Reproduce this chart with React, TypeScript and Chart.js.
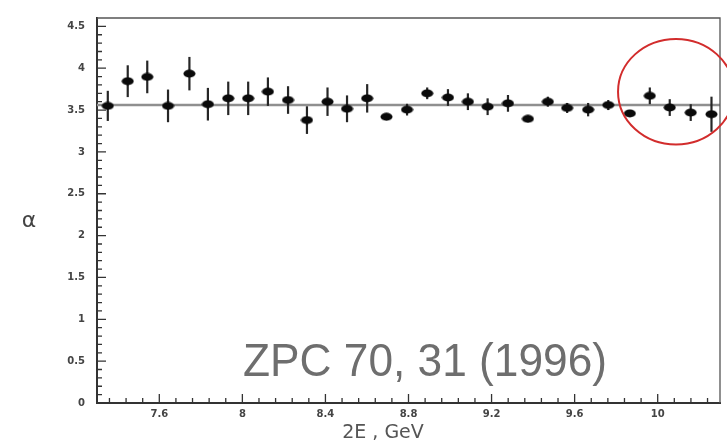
import React, { useEffect, useRef } from "react";
import { Chart, registerables } from "chart.js";

Chart.register(...registerables);

// ---- data ----
const energies = [7.352, 7.448, 7.542, 7.642, 7.745, 7.834, 7.932, 8.028, 8.123, 8.22, 8.311, 8.41, 8.504, 8.601, 8.694, 8.793, 8.89, 8.99, 9.086, 9.181, 9.279, 9.375, 9.471, 9.564, 9.665, 9.762, 9.866, 9.962, 10.058, 10.159, 10.259];
const alphaValues = [3.55, 3.845, 3.896, 3.55, 3.935, 3.57, 3.64, 3.64, 3.72, 3.62, 3.38, 3.6, 3.515, 3.64, 3.42, 3.505, 3.7, 3.65, 3.6, 3.54, 3.58, 3.395, 3.6, 3.525, 3.505, 3.56, 3.46, 3.67, 3.53, 3.47, 3.45];
const alphaErrors = [0.18, 0.19, 0.195, 0.195, 0.2, 0.195, 0.2, 0.2, 0.17, 0.165, 0.165, 0.17, 0.16, 0.17, 0.04, 0.07, 0.07, 0.1, 0.1, 0.1, 0.1, 0.04, 0.06, 0.06, 0.08, 0.06, 0.04, 0.1, 0.1, 0.1, 0.21];
const fitValue = 3.56;
const xRange = [7.3, 10.3];
const yRange = [0, 4.6];
const xTickValues = [7.6, 8, 8.4, 8.8, 9.2, 9.6, 10];
const yTickValues = [0, 0.5, 1, 1.5, 2, 2.5, 3, 3.5, 4, 4.5];
const xMinorStep = 0.08;
const yMinorStep = 0.1;
const circleCenter = [10.088, 3.72];
const circleRadii = [0.279, 0.63];
const xTitle = "2E , GeV";
const yTitle = "α";
const noteText = "ZPC 70, 31 (1996)";

function makeMarker(): HTMLCanvasElement {
  const c = document.createElement("canvas");
  c.width = 13;
  c.height = 9;
  const g = c.getContext("2d")!;
  g.fillStyle = "#0a0a0a";
  g.beginPath();
  g.ellipse(6.5, 4.5, 6, 3.9, 0, 0, Math.PI * 2);
  g.fill();
  return c;
}

const decorPlugin = {
  id: "decor",
  afterDatasetDraw(chart: any, args: any) {
    if (args.index !== 1) return;
    const { ctx, scales } = chart;
    const xs = scales.x;
    const ys = scales.y;
    ctx.save();
    ctx.strokeStyle = "#262626";
    ctx.lineWidth = 2.2;
    energies.forEach((e, i) => {
      const px = xs.getPixelForValue(e);
      ctx.beginPath();
      ctx.moveTo(px, ys.getPixelForValue(alphaValues[i] - alphaErrors[i]));
      ctx.lineTo(px, ys.getPixelForValue(alphaValues[i] + alphaErrors[i]));
      ctx.stroke();
    });
    ctx.restore();
  },
  afterDraw(chart: any) {
    const { ctx, chartArea: a, scales } = chart;
    const xs = scales.x;
    const ys = scales.y;
    ctx.save();
    // frame
    ctx.strokeStyle = "#555";
    ctx.lineWidth = 1.3;
    ctx.beginPath();
    ctx.moveTo(a.left, a.top);
    ctx.lineTo(a.right, a.top);
    ctx.lineTo(a.right, a.bottom);
    ctx.stroke();
    // inward ticks
    ctx.strokeStyle = "#333";
    ctx.lineWidth = 1.3;
    ctx.beginPath();
    for (let v = xTickValues[0] - 3 * xMinorStep; v <= xRange[1] + 1e-6; v += xMinorStep) {
      const major = xTickValues.some((t) => Math.abs(t - v) < 1e-6);
      const px = xs.getPixelForValue(v);
      if (px <= a.left + 1 || px >= a.right - 1) continue;
      ctx.moveTo(px, a.bottom);
      ctx.lineTo(px, a.bottom - (major ? 9 : 5));
    }
    for (let v = yRange[0] + yMinorStep; v <= yRange[1] + 1e-6; v += yMinorStep) {
      const major = yTickValues.some((t) => Math.abs(t - v) < 1e-6);
      const py = ys.getPixelForValue(v);
      if (py <= a.top + 1) continue;
      ctx.moveTo(a.left, py);
      ctx.lineTo(a.left + (major ? 9 : 5), py);
    }
    ctx.stroke();
    // red circle
    const cx = xs.getPixelForValue(circleCenter[0]);
    const cy = ys.getPixelForValue(circleCenter[1]);
    const rx = xs.getPixelForValue(circleCenter[0] + circleRadii[0]) - cx;
    const ry = cy - ys.getPixelForValue(circleCenter[1] + circleRadii[1]);
    ctx.strokeStyle = "#d22c2c";
    ctx.lineWidth = 2;
    ctx.beginPath();
    ctx.ellipse(cx, cy, rx, ry, 0, 0, Math.PI * 2);
    ctx.stroke();
    // titles
    ctx.fillStyle = "#555";
    ctx.font = "19px 'DejaVu Sans', sans-serif";
    ctx.textAlign = "center";
    ctx.textBaseline = "alphabetic";
    ctx.fillText(xTitle, a.left + 286, a.bottom + 35);
    ctx.font = "22px 'DejaVu Sans', sans-serif";
    ctx.fillStyle = "#444";
    ctx.fillText(yTitle, 29, 227);
    // note
    ctx.fillStyle = "#6e6e6e";
    ctx.font = "46px 'Liberation Sans', sans-serif";
    ctx.textAlign = "left";
    ctx.fillText(noteText, a.left + 146, a.bottom - 27, 364);
    ctx.restore();
  },
};

export default function App() {
  const ref = useRef<HTMLCanvasElement | null>(null);
  useEffect(() => {
    if (!ref.current) return;
    const marker = makeMarker();
    const tickFont = { family: "'DejaVu Sans', sans-serif", size: 10, weight: "bold" as const };
    const chart = new Chart(ref.current, {
      type: "scatter",
      data: {
        datasets: [
          {
            label: "alpha",
            data: energies.map((e, i) => ({ x: e, y: alphaValues[i] })),
            pointStyle: marker as any,
            pointRadius: 6,
            showLine: false,
          },
          {
            label: "fit",
            type: "line",
            data: [
              { x: xRange[0], y: fitValue },
              { x: xRange[1], y: fitValue },
            ],
            borderColor: "#8f8f8f",
            borderWidth: 2.5,
            pointRadius: 0,
            showLine: true,
            fill: false,
          } as any,
        ],
      },
      options: {
        responsive: false,
        animation: false,
        layout: { padding: { top: 10, right: 7, left: 0, bottom: 0 } },
        plugins: { legend: { display: false }, tooltip: { enabled: false } },
        scales: {
          x: {
            type: "linear",
            min: xRange[0],
            max: xRange[1],
            grid: { display: false, drawTicks: false },
            border: { display: true, color: "#333", width: 2 },
            ticks: {
              font: tickFont,
              color: "#444",
              padding: 5,
              autoSkip: false,
              maxRotation: 0,
              callback: (v: any) => String(v),
            },
            afterBuildTicks: (s: any) => {
              s.ticks = xTickValues.map((v) => ({ value: v }));
            },
            afterFit: (s: any) => {
              s.height = 37;
            },
          },
          y: {
            type: "linear",
            min: yRange[0],
            max: yRange[1],
            grid: { display: false, drawTicks: false },
            border: { display: true, color: "#333", width: 2 },
            ticks: {
              font: tickFont,
              color: "#444",
              padding: 12,
              autoSkip: false,
              callback: (v: any) => String(v),
            },
            afterBuildTicks: (s: any) => {
              s.ticks = yTickValues.map((v) => ({ value: v }));
            },
            afterFit: (s: any) => {
              s.width = 97;
            },
          },
        },
      },
      plugins: [decorPlugin],
    });
    return () => chart.destroy();
  }, []);
  return (
    <div style={{ position: "fixed", left: 0, top: 0, width: 727, height: 440, background: "#fff" }}>
      <canvas ref={ref} width={727} height={440} style={{ display: "block" }} />
    </div>
  );
}
